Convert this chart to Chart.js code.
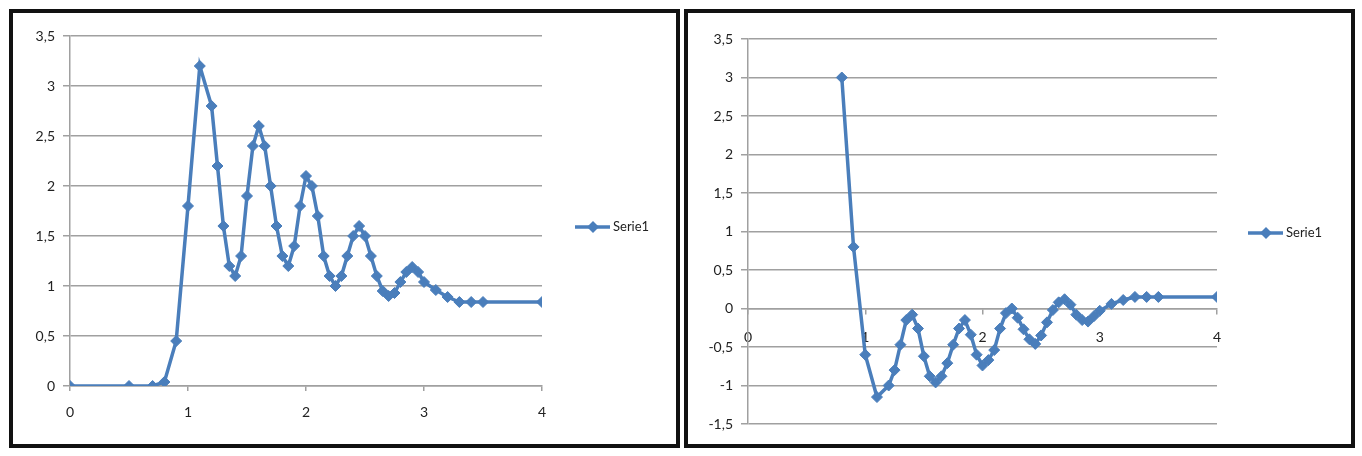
<!DOCTYPE html>
<html>
<head>
<meta charset="utf-8">
<script src="https://cdn.jsdelivr.net/npm/chart.js@4/dist/chart.umd.min.js"></script>
<style>
    body { margin: 0; background: #fff; }
    .panel { position: absolute; top: 9px; height: 439px; width: 671px; box-sizing: border-box; border: 4px solid #111; background: #fff; }
    #panelLeft { left: 9px; }
    #panelRight { left: 684px; }
    canvas { display: block; }
</style>
</head>
<body>
<div class="panel" id="panelLeft"><canvas id="chartLeft" width="663" height="431"></canvas></div>
<div class="panel" id="panelRight"><canvas id="chartRight" width="663" height="431"></canvas></div>
<script>
// left chart (peaks around 1)
const leftX = [0, 0.5, 0.7, 0.8, 0.9, 1.0, 1.1, 1.2, 1.25, 1.3, 1.35, 1.4, 1.45, 1.5, 1.55, 1.6, 1.65, 1.7, 1.75, 1.8,
    1.85, 1.9, 1.95, 2.0, 2.05, 2.1, 2.15, 2.2, 2.25, 2.3, 2.35, 2.4, 2.45, 2.5, 2.55, 2.6, 2.65, 2.7, 2.75, 2.8,
    2.85, 2.9, 2.95, 3.0, 3.1, 3.2, 3.3, 3.4, 3.5, 4.0];
const leftY = [0, 0, 0, 0.04, 0.45, 1.8, 3.2, 2.8, 2.2, 1.6, 1.2, 1.1, 1.3, 1.9, 2.4, 2.6, 2.4, 2.0, 1.6, 1.3,
    1.2, 1.4, 1.8, 2.1, 2.0, 1.7, 1.3, 1.1, 1.0, 1.1, 1.3, 1.5, 1.6, 1.5, 1.3, 1.1, 0.95, 0.9, 0.93, 1.04,
    1.14, 1.19, 1.14, 1.04, 0.96, 0.89, 0.84, 0.84, 0.84, 0.84];

// right chart (starts at 0.8)
const rightX = [0.8, 0.9, 1.0, 1.1, 1.2, 1.25, 1.3, 1.35, 1.4, 1.45, 1.5, 1.55, 1.6, 1.65, 1.7, 1.75, 1.8, 1.85, 1.9, 1.95,
    2.0, 2.05, 2.1, 2.15, 2.2, 2.25, 2.3, 2.35, 2.4, 2.45, 2.5, 2.55, 2.6, 2.65, 2.7, 2.75, 2.8, 2.85, 2.9, 2.95,
    3.0, 3.1, 3.2, 3.3, 3.4, 3.5, 4.0];
const rightY = [3.0, 0.8, -0.6, -1.15, -1.0, -0.8, -0.47, -0.15, -0.08, -0.26, -0.62, -0.88, -0.96, -0.88, -0.71, -0.47, -0.26, -0.15, -0.34, -0.6,
    -0.74, -0.67, -0.54, -0.26, -0.06, 0.0, -0.12, -0.27, -0.4, -0.46, -0.35, -0.18, -0.02, 0.08, 0.12, 0.05, -0.08, -0.15, -0.17, -0.1,
    -0.03, 0.06, 0.11, 0.15, 0.15, 0.15, 0.15];

const seriesName = 'Serie1';
const xTicks = [0, 1, 2, 3, 4];

const blue = '#4a7ebb';
const gridGray = '#a0a0a0';

Chart.defaults.font.family = 'Lato';
Chart.defaults.font.size = 14;
Chart.defaults.color = '#222';

// excel style legend: line + diamond + text
const excelLegend = {
    id: 'excelLegend',
    afterDraw(chart, args, opts) {
        const ctx = chart.ctx;
        const ds = chart.data.datasets[0];
        const x = chart.chartArea.right + opts.offsetX;
        const y = opts.y;
        ctx.save();
        ctx.strokeStyle = ds.borderColor;
        ctx.lineWidth = 3.5;
        ctx.beginPath();
        ctx.moveTo(x, y);
        ctx.lineTo(x + 35, y);
        ctx.stroke();
        ctx.fillStyle = ds.borderColor;
        ctx.beginPath();
        ctx.moveTo(x + 18, y - 6);
        ctx.lineTo(x + 24, y);
        ctx.lineTo(x + 18, y + 6);
        ctx.lineTo(x + 12, y);
        ctx.closePath();
        ctx.fill();
        ctx.fillStyle = '#222';
        ctx.font = '13px Lato';
        ctx.textBaseline = 'middle';
        ctx.fillText(ds.label, x + 38, y);
        ctx.restore();
    }
};

function toPoints(xs, ys) {
    return xs.map((x, i) => ({ x: x, y: ys[i] }));
}

function commaLabel(v) {
    return String(v).replace('.', ',');
}

function makeChart(id, xs, ys, yMin, yMax, cfg) {
    return new Chart(document.getElementById(id).getContext('2d'), {
        type: 'line',
        data: {
            datasets: [{
                label: seriesName,
                data: toPoints(xs, ys),
                borderColor: blue,
                backgroundColor: blue,
                borderWidth: 3.5,
                pointStyle: 'rectRot',
                pointRadius: 5.5,
                pointBorderWidth: 1,
                fill: false,
                tension: 0
            }]
        },
        options: {
            responsive: false,
            animation: false,
            devicePixelRatio: 1,
            layout: { padding: cfg.padding },
            plugins: {
                legend: { display: false },
                tooltip: { enabled: false },
                excelLegend: { offsetX: cfg.legendOffset, y: cfg.legendY }
            },
            scales: {
                x: {
                    type: 'linear',
                    position: cfg.xPosition,
                    min: 0,
                    max: 4,
                    afterBuildTicks: (scale) => { scale.ticks = xTicks.map(v => ({ value: v })); },
                    grid: { drawOnChartArea: false, drawTicks: true, tickLength: 5, color: gridGray, lineWidth: 1.5 },
                    border: { display: true, color: gridGray, width: 1.5 },
                    ticks: { padding: cfg.xPad, maxRotation: 0, callback: v => commaLabel(v) },
                    afterFit: (scale) => { if (cfg.xHeight) scale.height = cfg.xHeight; }
                },
                y: {
                    min: yMin,
                    max: yMax,
                    grid: { color: gridGray, lineWidth: 1.5, tickLength: 7 },
                    border: { display: true, color: gridGray, width: 1.5 },
                    ticks: { stepSize: 0.5, padding: 8, callback: v => commaLabel(v) },
                    afterFit: (scale) => { scale.width = cfg.yWidth; }
                }
            }
        },
        plugins: [excelLegend]
    });
}

makeChart('chartLeft', leftX, leftY, 0, 3.5, {
    padding: { top: 23, right: 134, bottom: 0, left: 0 },
    xPosition: 'bottom',
    xPad: 13,
    xHeight: 58,
    yWidth: 57,
    legendOffset: 33,
    legendY: 214
});

makeChart('chartRight', rightX, rightY, -1.5, 3.5, {
    padding: { top: 26, right: 134, bottom: 20, left: 0 },
    xPosition: { y: 0 },
    xPad: 16,
    xHeight: null,
    yWidth: 60,
    legendOffset: 31,
    legendY: 220
});
</script>
</body>
</html>
